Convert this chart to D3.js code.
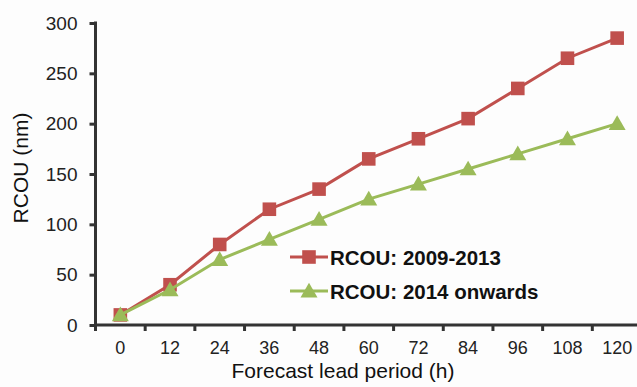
<!DOCTYPE html>
<html>
<head>
<meta charset="utf-8">
<script src="https://cdn.jsdelivr.net/npm/d3@7"></script>
<style>
  body { margin: 0; background: #fdfdfd; }
  svg { display: block; font-family: "Liberation Sans", Arial, sans-serif; }
</style>
</head>
<body>
<svg width="637" height="387"></svg>
<script>
// lead periods (h)
const leadHours = [0, 12, 24, 36, 48, 60, 72, 84, 96, 108, 120];
const rcouOld = [10, 40, 80, 115, 135, 165, 185, 205, 235, 265, 285];
const rcouNew = [10, 35, 65, 85, 105, 125, 140, 155, 170, 185, 200];
const yTicks = [0, 50, 100, 150, 200, 250, 300];
const seriesNames = ['RCOU: 2009-2013', 'RCOU: 2014 onwards'];

const svg = d3.select('svg');
const axisColor = '#333';

const xScale = d3.scaleBand()
    .domain(leadHours)
    .range([95.5, 642]);

const yScale = d3.scaleLinear()
    .domain([0, 300])
    .range([325, 23]);

const series = [
    {name: seriesNames[0], values: rcouOld, color: '#c0504d', marker: 'square'},
    {name: seriesNames[1], values: rcouNew, color: '#9bbb59', marker: 'triangle'}
];

const symbols = {
    square: d3.symbol().type(d3.symbolSquare).size(185),
    triangle: d3.symbol().type(d3.symbolTriangle).size(125)
};

const cx = h => xScale(h) + xScale.bandwidth() / 2;

// lines + markers
series.forEach(s => {
    const line = d3.line()
        .x((d, i) => cx(leadHours[i]))
        .y(d => yScale(d));

    svg.append('path')
        .datum(s.values)
        .attr('d', line)
        .attr('fill', 'none')
        .attr('stroke', s.color)
        .attr('stroke-width', 3);

    svg.append('g')
        .selectAll('path')
        .data(s.values)
        .enter()
        .append('path')
            .attr('d', symbols[s.marker])
            .attr('transform', (d, i) => `translate(${cx(leadHours[i])},${yScale(d) + (s.marker === 'triangle' ? 1.5 : 0)})`)
            .attr('fill', s.color);
});

// axes
const xAxis = svg.append('g')
    .attr('transform', 'translate(0,325)');
xAxis.append('line')
    .attr('x1', xScale.range()[0] - 1.5).attr('x2', 637)
    .attr('stroke', axisColor).attr('stroke-width', 3);
xAxis.selectAll('.tick-mark')
    .data(leadHours)
    .enter()
    .append('line')
        .attr('x1', d => xScale(d)).attr('x2', d => xScale(d))
        .attr('y1', 0).attr('y2', 6)
        .attr('stroke', axisColor).attr('stroke-width', 3);
xAxis.selectAll('.tick-label')
    .data(leadHours)
    .enter()
    .append('text')
        .attr('x', d => cx(d))
        .attr('y', 29)
        .attr('text-anchor', 'middle')
        .attr('font-size', 18)
        .attr('fill', '#222')
        .text(d => d);

const yAxis = d3.axisLeft(yScale)
    .tickValues(yTicks)
    .tickSize(6)
    .tickSizeOuter(0)
    .tickPadding(12);
const yG = svg.append('g')
    .attr('transform', `translate(${xScale.range()[0]},0)`)
    .call(yAxis);
yG.select('.domain')
    .attr('d', `M0,${yScale(300) - 1.5}V${yScale(0) + 1.5}`)
    .attr('stroke', axisColor).attr('stroke-width', 3);
yG.selectAll('.tick line').attr('stroke', axisColor).attr('stroke-width', 3);
yG.selectAll('.tick text')
    .attr('font-size', 19)
    .attr('font-family', '"Liberation Sans", Arial, sans-serif')
    .attr('fill', '#222');

// axis titles
svg.append('text')
    .attr('x', 343)
    .attr('y', 378)
    .attr('text-anchor', 'middle')
    .attr('font-size', 21)
    .attr('fill', '#111')
    .text('Forecast lead period (h)');

svg.append('text')
    .attr('transform', 'translate(28,168) rotate(-90)')
    .attr('text-anchor', 'middle')
    .attr('font-size', 21)
    .attr('fill', '#111')
    .text('RCOU (nm)');

// legend
const legend = svg.append('g');
series.forEach((s, i) => {
    const ly = 257 + i * 34;
    legend.append('line')
        .attr('x1', 290).attr('x2', 328)
        .attr('y1', ly).attr('y2', ly)
        .attr('stroke', s.color).attr('stroke-width', 3);
    legend.append('path')
        .attr('d', symbols[s.marker])
        .attr('transform', `translate(309,${ly + (s.marker === 'triangle' ? 1.5 : 0)})`)
        .attr('fill', s.color);
    legend.append('text')
        .attr('x', 330)
        .attr('y', ly + 7.5)
        .attr('font-size', 20.5)
        .attr('font-weight', 'bold')
        .attr('fill', '#111')
        .text(s.name);
});
</script>
</body>
</html>
